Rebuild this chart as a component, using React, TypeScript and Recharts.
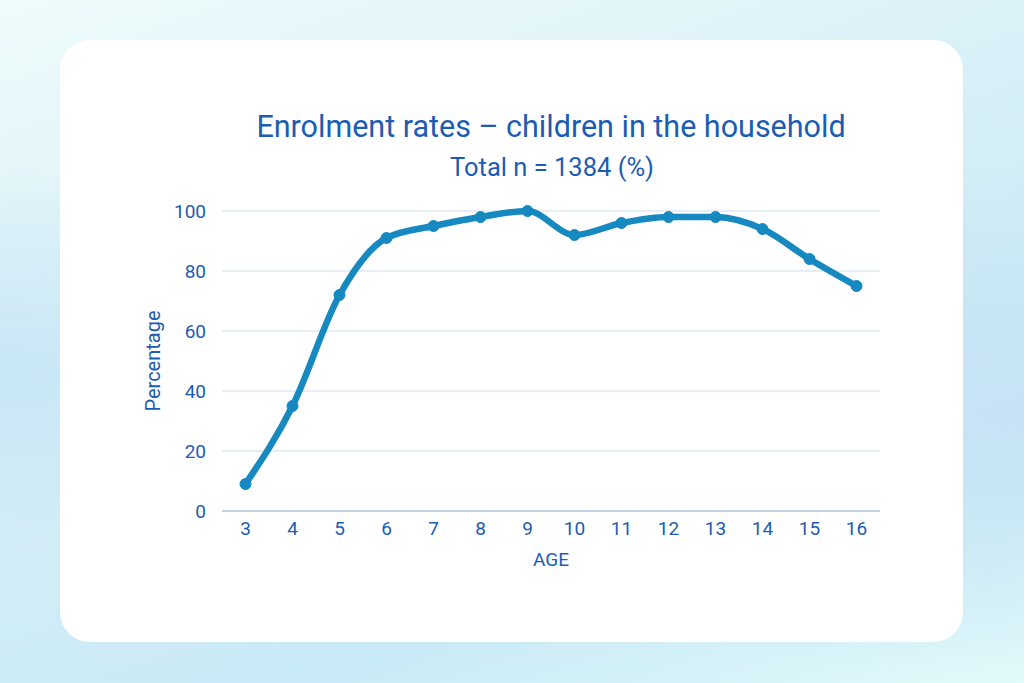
import React from 'react';
import { LineChart, Line, XAxis, YAxis, CartesianGrid } from 'recharts';

const ages = ['3', '4', '5', '6', '7', '8', '9', '10', '11', '12', '13', '14', '15', '16'];
const enrolment = [9, 35, 72, 91, 95, 98, 100, 92, 96, 98, 98, 94, 84, 75];
const yTicks = [0, 20, 40, 60, 80, 100];

const data = ages.map((age, i) => ({ age, value: enrolment[i] }));

const TEXT = '#1b5db3';
const LINE = '#1689c1';

const YLabel = ({ viewBox }: any) => {
  const x = viewBox.x + viewBox.width - 69;
  const y = viewBox.y + viewBox.height / 2;
  return (
    <text
      x={x}
      y={y}
      fill={TEXT}
      fontSize={20}
      textAnchor="middle"
      dominantBaseline="central"
      transform={`rotate(-90, ${x}, ${y})`}
    >
      Percentage
    </text>
  );
};

const XLabel = ({ viewBox }: any) => (
  <text
    x={viewBox.x + viewBox.width / 2}
    y={viewBox.y + 48}
    fill={TEXT}
    fontSize={19}
    textAnchor="middle"
    dominantBaseline="central"
  >
    AGE
  </text>
);

const App = () => {
  return (
    <div
      style={{
        position: 'absolute',
        top: 0,
        left: 0,
        width: 1024,
        height: 683,
        overflow: 'hidden',
        fontFamily: 'Roboto, sans-serif',
        background:
          'radial-gradient(ellipse at 100% 60%, #c6e2f4 0%, rgba(198,226,244,0) 45%), radial-gradient(ellipse at 0% 55%, #c9e6f6 0%, rgba(201,230,246,0) 40%), linear-gradient(160deg, #eefbfb 0%, #d8f0f7 40%, #c8e9f6 75%, #e2fafa 100%)',
      }}
    >
      <div
        style={{
          position: 'absolute',
          left: 60,
          top: 40,
          width: 903,
          height: 602,
          borderRadius: 30,
          background: '#ffffff',
        }}
      >
        <div
          style={{
            position: 'absolute',
            left: 91,
            width: 800,
            top: 69,
            fontSize: 30.5,
            lineHeight: '36px',
            textAlign: 'center',
            color: TEXT,
          }}
        >
          Enrolment rates – children in the household
        </div>
        <div
          style={{
            position: 'absolute',
            left: 92,
            width: 800,
            top: 112,
            fontSize: 25.5,
            lineHeight: '30px',
            textAlign: 'center',
            color: TEXT,
          }}
        >
          Total n = 1384 (%)
        </div>
        <div style={{ position: 'absolute', left: 0, top: 0 }}>
          <LineChart
            width={903}
            height={602}
            data={data}
            margin={{ top: 171, right: 83, bottom: 71, left: 0 }}
          >
            <CartesianGrid vertical={false} stroke="#dfe7f1" strokeWidth={1.5} />
            <XAxis
              dataKey="age"
              height={60}
              padding={{ left: 23.5, right: 23.5 }}
              tickLine={false}
              tickSize={0}
              tickMargin={11}
              axisLine={{ stroke: '#c3d2e8', strokeWidth: 2 }}
              tick={{ fill: TEXT, fontSize: 19 }}
              label={<XLabel />}
            />
            <YAxis
              width={162}
              domain={[0, 100]}
              ticks={yTicks}
              tickLine={false}
              tickSize={0}
              tickMargin={16}
              axisLine={false}
              tick={{ fill: TEXT, fontSize: 19 }}
              label={<YLabel />}
            />
            <Line
              type="monotone"
              dataKey="value"
              stroke={LINE}
              strokeWidth={6.5}
              dot={{ r: 5.5, fill: LINE, stroke: LINE, strokeWidth: 1 }}
              isAnimationActive={false}
            />
          </LineChart>
        </div>
      </div>
    </div>
  );
};

export default App;
